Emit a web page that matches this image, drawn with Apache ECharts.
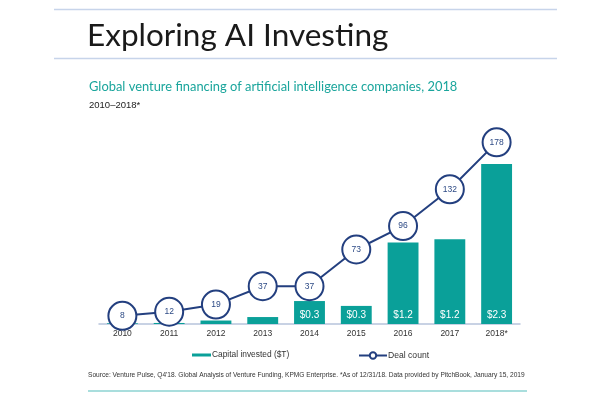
<!DOCTYPE html>
<html>
<head>
<meta charset="utf-8">
<script src="https://cdn.jsdelivr.net/npm/echarts@6/dist/echarts.min.js"></script>
<style>html,body{margin:0;padding:0;background:#fff;}#c{width:600px;height:401px;}</style>
</head>
<body>
<div id="c"></div>
<script>
var categories = ['2010', '2011', '2012', '2013', '2014', '2015', '2016', '2017', '2018*'];
var capitalInvested = [0.01, 0.015, 0.05, 0.1, 0.33, 0.26, 1.17, 1.22, 2.3];
var dealCount = [8, 12, 19, 37, 37, 73, 96, 132, 178];

var teal = '#0aa099';
var navy = '#233f7f';

var chart = echarts.init(document.getElementById('c'), null, {renderer: 'canvas'});
chart.setOption({
  backgroundColor: '#ffffff',
  animation: false,
  graphic: [
    {type: 'line', shape: {x1: 54, y1: 9.5, x2: 557, y2: 9.5}, style: {stroke: '#c7d4ea', lineWidth: 1.5}},
    {type: 'line', shape: {x1: 54, y1: 58.5, x2: 557, y2: 58.5}, style: {stroke: '#c7d4ea', lineWidth: 1.5}},
    {type: 'text', left: 87, top: 20, style: {text: 'Exploring AI Investing', fontFamily: 'Lato', fontSize: 31.5, fill: '#1a1a1a'}},
    {type: 'text', left: 89, top: 80, style: {text: 'Global venture financing of artificial intelligence companies, 2018', fontFamily: 'Lato', fontSize: 12.9, fill: '#1aa59c'}},
    {type: 'text', left: 89, top: 100, style: {text: '2010\u20132018*', fontFamily: 'Liberation Sans', fontSize: 9.5, fill: '#222'}},
    {type: 'text', left: 88, top: 372, style: {text: 'Source: Venture Pulse, Q4\'18. Global Analysis of Venture Funding, KPMG Enterprise. *As of 12/31/18. Data provided by PitchBook, January 15, 2019', fontFamily: 'Liberation Sans', fontSize: 6.6, fill: '#333'}},
    {type: 'line', shape: {x1: 88, y1: 391, x2: 527, y2: 391}, style: {stroke: '#a9dedd', lineWidth: 2}}
  ],
  grid: {left: 99, right: 80, top: 124, bottom: 77, containLabel: false},
  legend: [
    {data: ['Capital invested ($T)'], left: 192, top: 351, padding: 0, icon: 'rect', itemWidth: 19, itemHeight: 3, itemGap: 0,
     textStyle: {fontFamily: 'Liberation Sans', fontSize: 8.4, color: '#333', padding: [0, 0, 0, -4]}},
    {data: ['Deal count'], left: 358, top: 351, padding: 0, itemWidth: 28, itemHeight: 8, itemGap: 0,
     textStyle: {fontFamily: 'Liberation Sans', fontSize: 8.6, color: '#333', padding: [0, 0, 0, -4]}}
  ],
  xAxis: {
    type: 'category', data: categories,
    axisLine: {lineStyle: {color: '#b7c3dc', width: 1.5}},
    axisTick: {show: false},
    axisLabel: {fontFamily: 'Liberation Sans', fontSize: 8.5, color: '#333', margin: 5}
  },
  yAxis: [
    {type: 'value', min: 0, max: 2.875, show: false, splitLine: {show: false}},
    {type: 'value', min: 0, max: 196, show: false, splitLine: {show: false}}
  ],
  series: [
    {
      name: 'Capital invested ($T)', type: 'bar', data: capitalInvested, yAxisIndex: 0,
      barCategoryGap: '34%',
      itemStyle: {color: teal},
      label: {
        show: true, position: 'insideBottom', distance: 4,
        fontFamily: 'Liberation Sans', fontSize: 10, color: '#ffffff',
        formatter: function (p) { return p.value >= 0.2 ? '$' + p.value.toFixed(1) : ''; }
      },
      z: 1
    },
    {
      name: 'Deal count', type: 'line', data: dealCount, yAxisIndex: 1,
      symbol: 'circle', symbolSize: 28,
      lineStyle: {color: navy, width: 2},
      itemStyle: {color: '#ffffff', borderColor: navy, borderWidth: 2},
      label: {show: true, position: 'inside', fontFamily: 'Liberation Sans', fontSize: 8.5, color: '#2d4a85'},
      z: 3
    }
  ]
});
</script>
</body>
</html>
